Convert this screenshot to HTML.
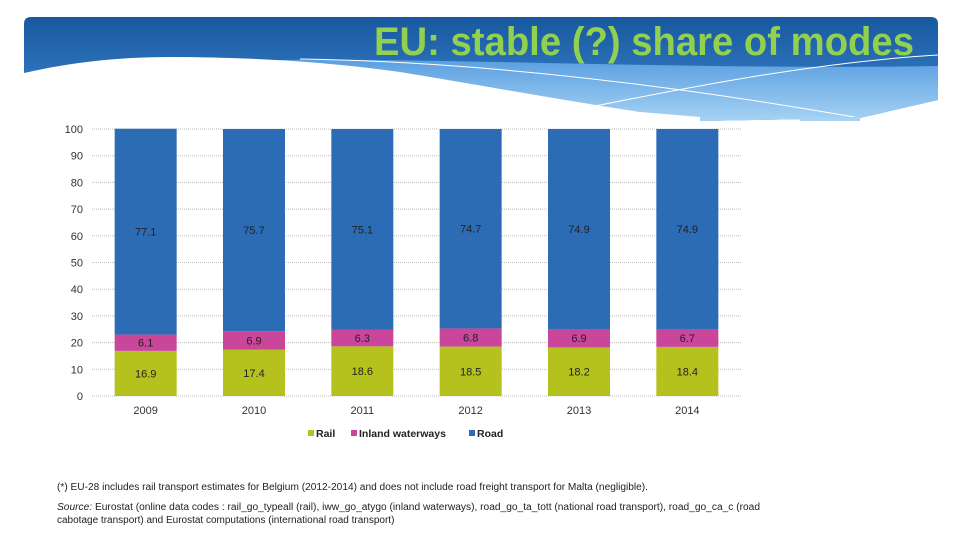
<!DOCTYPE html>
<html><head><meta charset="utf-8"><style>
body{margin:0;width:960px;height:540px;background:#fff;overflow:hidden;font-family:"Liberation Sans",sans-serif}
svg{position:absolute;left:0;top:0}
</style></head><body>
<svg width="960" height="540">
<defs>
<linearGradient id="bg" x1="0" y1="0" x2="0" y2="1"><stop offset="0" stop-color="#18589f"/><stop offset="1" stop-color="#3d88d2"/></linearGradient>
<linearGradient id="sw" x1="0" y1="0" x2="0" y2="1"><stop offset="0" stop-color="#5b9fe0"/><stop offset="1" stop-color="#a6d2f4"/></linearGradient>
<clipPath id="bc"><path d="M24,121 L24,24 Q24,17 31,17 L931,17 Q938,17 938,24 L938,100 L860,118 L700,121 Z"/></clipPath>
</defs>
<g clip-path="url(#bc)">
<rect x="22" y="17" width="916" height="104" fill="url(#bg)"/>
<path d="M280,60 C450,58 700,70 938,66 L938,121 L280,121 Z" fill="url(#sw)"/>
<path d="M20,74 C70,62 120,57 170,57 C250,57 330,62 400,72 C480,85 560,100 640,112 L700,117 L700,125 L20,125 Z" fill="#fff"/>
<path d="M300,59 C500,62 700,90 860,118" stroke="#fff" stroke-width="1" fill="none"/>
<path d="M590,107 C700,85 820,62 938,55" stroke="#fff" stroke-width="1" fill="none"/>
</g>
<rect x="800" y="117" width="60" height="4" fill="#a6d2f4"/>
<text x="914" y="55" text-anchor="end" font-family="'Liberation Sans Narrow','Liberation Sans',sans-serif" font-size="40" font-weight="bold" fill="#92d050" textLength="540" lengthAdjust="spacingAndGlyphs">EU: stable (?) share of modes</text>
<g id="chart"></g>
<text x="57" y="490" font-size="10" fill="#222" textLength="591" lengthAdjust="spacingAndGlyphs">(*) EU-28 includes rail transport estimates for Belgium (2012-2014) and does not include road freight transport for Malta (negligible).</text>
<text x="57" y="510" font-size="10" fill="#222" textLength="703" lengthAdjust="spacingAndGlyphs"><tspan font-style="italic">Source:</tspan> Eurostat (online data codes : rail_go_typeall (rail), iww_go_atygo (inland waterways), road_go_ta_tott (national road transport), road_go_ca_c (road</text>
<text x="57" y="523" font-size="10" fill="#222">cabotage transport) and Eurostat computations (international road transport)</text>
</svg>
<script>
const years=["2009","2010","2011","2012","2013","2014"];
const rail=[16.9,17.4,18.6,18.5,18.2,18.4];
const inland=[6.1,6.9,6.3,6.8,6.9,6.7];
const road=[77.1,75.7,75.1,74.7,74.9,74.9];
const yTicks=[0,10,20,30,40,50,60,70,80,90,100];
const NS="http://www.w3.org/2000/svg";
const g=document.getElementById('chart');
const x0=92,x1=742,yb=396,yt=129;
const y=v=>yb-(v/100)*(yb-yt);
const step=(x1-x0)/years.length;
const xc=i=>x0+step*(i+0.5)-0.5;
const bw=62;
function mk(t,a,txt){const e=document.createElementNS(NS,t);for(const k in a)e.setAttribute(k,a[k]);if(txt!==undefined)e.textContent=txt;g.appendChild(e);return e;}
yTicks.forEach(v=>{
 const l=mk('line',{x1:x0,x2:x1,y1:y(v),y2:y(v),stroke:'#bbb','stroke-dasharray':'1,1'});
 
 
 const t=mk('text',{x:83,y:y(v)+4,'text-anchor':'end','font-size':11,fill:'#333'},v);
 
 
});
const series=[[rail,'#b5c21d','rail'],[inland,'#c9469a','inland'],[road,'#2b6cb5','road']];
years.forEach((yr,i)=>{
 let base=0;
 series.forEach(([arr,col,nm])=>{
  const v=arr[i];
  const r=mk('rect',{x:xc(i)-bw/2,y:y(base+v),width:bw,height:y(base)-y(base+v),fill:col});
  
  
  const t=mk('text',{x:xc(i),y:y(base+v/2)+4,'text-anchor':'middle','font-size':11,fill:'#222'},v.toFixed(1));
  
  
  base+=v;
 });
 const t=mk('text',{x:xc(i),y:414,'text-anchor':'middle','font-size':11,fill:'#333'},yr);
 
 
});
const leg=[['Rail','#b5c21d',308],['Inland waterways','#c9469a',351],['Road','#2b6cb5',469]];
leg.forEach(([n,c,x])=>{
 const r=mk('rect',{x:x,y:430,width:6,height:6,fill:c});
 
 
 const t=mk('text',{x:x+8,y:437,'font-size':10.5,'font-weight':'bold',fill:'#222'},n);
 
 
});
</script>
</body></html>
